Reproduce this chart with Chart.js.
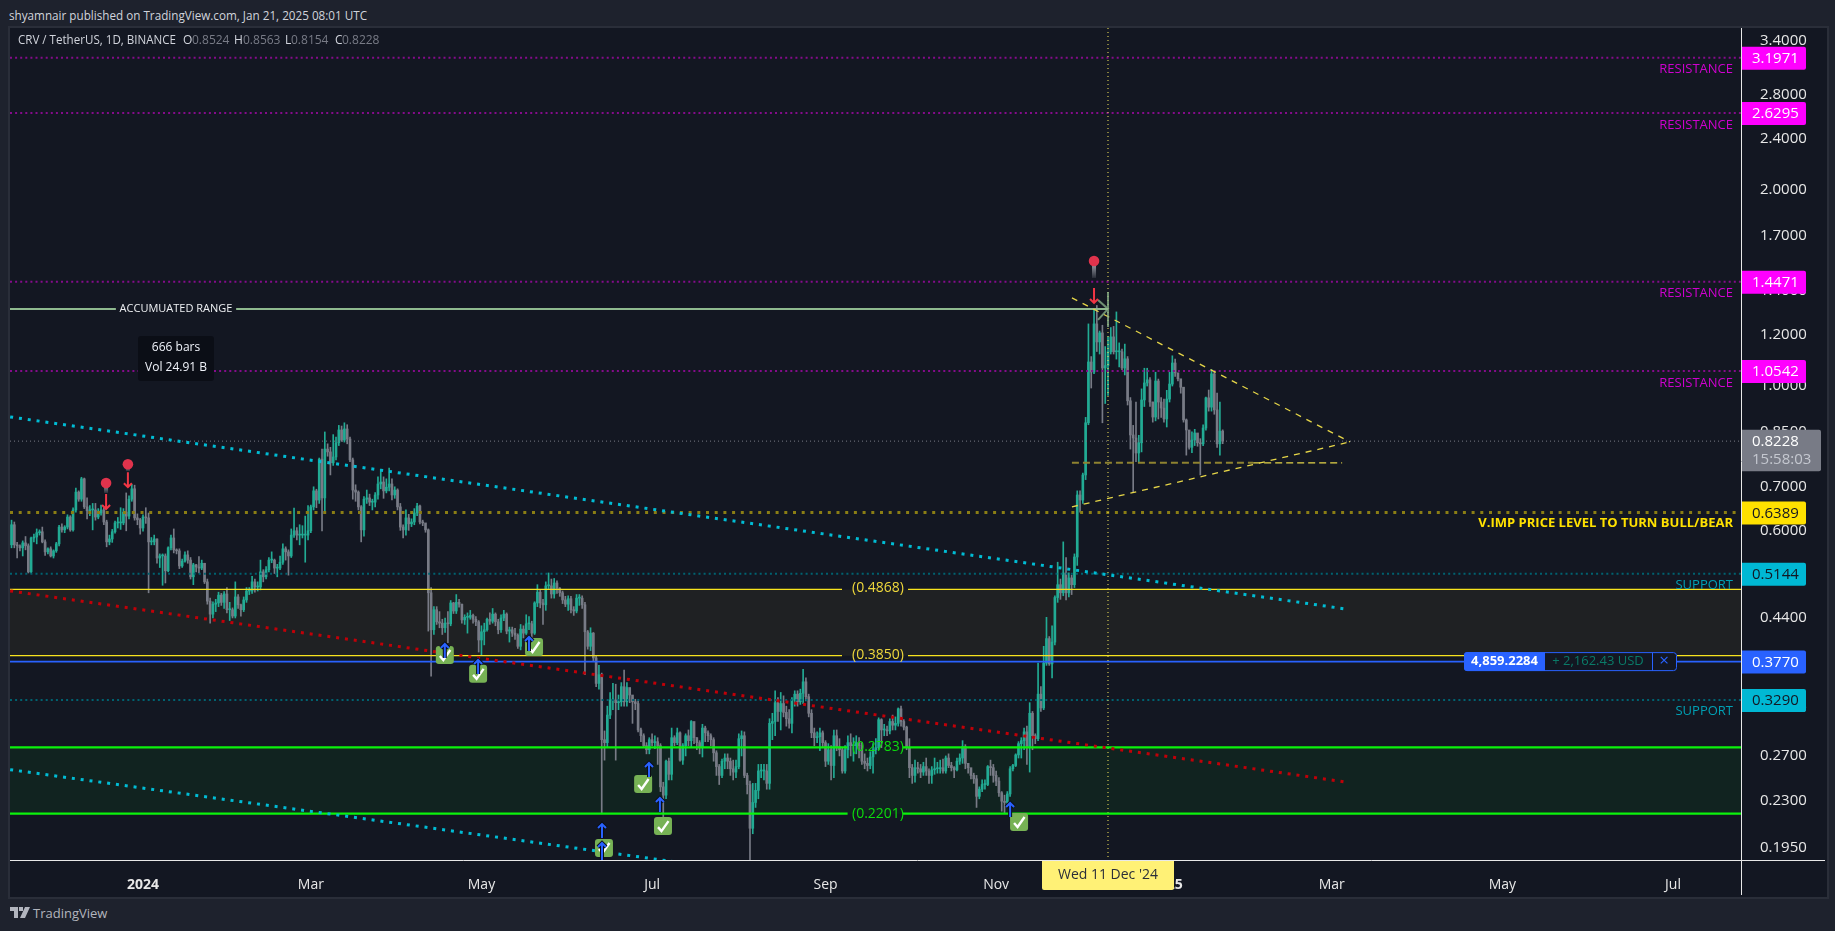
<!DOCTYPE html>
<html>
<head>
<meta charset="utf-8">
<title>CRV / TetherUS</title>
<script src="https://cdn.jsdelivr.net/npm/chart.js@4/dist/chart.umd.min.js"></script>
<style>
	html, body { margin: 0; padding: 0; background: #1e222d; overflow: hidden; }
	body { width: 1835px; height: 931px; position: relative; font-family: "Open Sans", "Noto Sans", sans-serif; }
	#published { position: absolute; left: 9px; top: 6px; color: #d1d4dc; font-size: 11.7px; line-height: 18px; white-space: nowrap; }
	#frame { position: absolute; left: 8px; top: 26px; width: 1817px; height: 869px; border: 2px solid #2a2e39; background: #131722; }
	#chartCanvas { position: absolute; left: 10px; top: 28px; }
	#brand { position: absolute; left: 10px; top: 904px; height: 18px; color: #b2b5be; font-size: 13px; line-height: 18px; }
	#brand svg { position: absolute; left: 0; top: 3px; }
	#brand span { position: absolute; left: 23px; top: 0; white-space: nowrap; }
</style>
</head>
<body>
<div id="published">shyamnair published on TradingView.com, Jan 21, 2025 08:01 UTC</div>
<div id="frame"></div>
<canvas id="chartCanvas" width="1815" height="867"></canvas>
<div id="brand">
	<svg width="20" height="11" viewBox="0 0 20 11"><path d="M0 0h8v11H4V4H0zM9 0h4v4H9zM15 0h5l-5 11h-5z" fill="#b2b5be"/></svg>
	<span>TradingView</span>
</div>
<script>
	// 캔들 시작일 (2024-01-01 = 0), 하루 단위
	const firstDay = -47;

	// 종가
	const closes = [
		.612,.570,.568,.564,.574,.568,.518,.584,.586,.595,
		.597,.576,.556,.562,.548,.558,.572,.607,.601,.607,
		.629,.601,.645,.687,.670,.720,.652,.643,.645,.645,
		.629,.638,.645,.618,.576,.582,.597,.616,.616,.616,
		.640,.631,.670,.695,.627,.623,.605,.629,.627,.576,
		.576,.582,.544,.548,.548,.520,.564,.584,.560,.558,
		.529,.538,.550,.540,.509,.531,.527,.525,.534,.500,
		.467,.446,.462,.464,.477,.465,.479,.453,.453,.443,
		.474,.461,.453,.469,.484,.484,.500,.491,.491,.518,
		.509,.522,.540,.540,.525,.525,.536,.562,.556,.548,
		.590,.599,.590,.590,.590,.590,.599,
		.652,.690,.668,.772,.673,.800,.792,.762,.778,.818,
		.856,.826,.859,.829,.770,.692,.687,.652,.601,.670,
		.673,.663,.663,.680,.707,.712,.690,.699,.707,.680,
		.692,.652,.607,.601,.627,.614,.618,.638,.654,.618,
		.616,.601,.481,.422,.453,.434,.432,.425,.432,.431,
		.464,.451,.465,.462,.437,.441,.441,.444,.438,.434,
		.407,.419,.422,.438,.435,.446,.434,.422,.440,.446,
		.420,.422,.417,.414,.398,.423,.417,.431,.431,.417,
		.464,.482,.464,.461,.493,.493,.479,.498,.489,.481,
		.469,.462,.471,.453,.451,.472,.472,.461,.419,
		.398,.417,.382,.349,.360,.286,.283,.312,.329,.329,
		.326,.327,.345,.327,.344,.335,.327,.325,.296,.290,
		.280,.276,.286,.283,.284,.280,.242,.235,.265,.253,
		.288,.283,.293,.266,.280,.290,.285,.305,.288,.283,
		.279,.298,.293,.290,.286,.273,.260,.252,.265,.268,
		.265,.258,.255,.260,.287,.290,.252,.244,.209,.229,
		.239,.256,.256,.256,.245,.303,.305,.326,.316,.325,
		.315,.308,.303,.329,.336,.327,.337,.351,.333,.314,
		.293,.288,.289,.293,.283,.265,.276,.261,.290,.279,
		.276,.256,.276,.283,.280,.280,.283,.280,.265,.263,
		.261,.269,.276,.278,.307,.296,.296,.295,.305,.301,
		.303,.319,.305,.299,.278,.259,.252,.259,.258,.255,
		.260,.256,.252,.257,.258,.258,.259,.256,.268,.261,
		.259,.257,.265,.268,.279,.263,.259,.252,.249,.234,
		.240,.244,.244,.260,.259,.252,.247,.237,.230,.229,
		.236,.258,.261,.271,.282,.285,.294,.278,.314,.290,
		.287,.336,.320,.375,.409,.374,.404,.473,.495,.481,
		.516,.481,.507,.495,.546,.680,.668,.730,.878,1.089,
		1.051,1.246,1.169,1.207,1.066,1.075,1.129,1.190,1.129,1.129,
		1.129,1.066,1.101,.949,.841,.832,.789,.818,.952,1.011,
		1.022,.945,.896,1.018,.945,.925,.890,.955,1.007,1.085,
		1.048,1.026,.996,.887,.856,.805,.826,.847,.818,.815,
		.862,.959,.928,1.044,.919,.815,.8524,.8228
	];

	// 고가
	const highs = [
		.622,.618,.575,.570,.578,.587,.572,.586,.592,.603,
		.601,.607,.580,.564,.566,.560,.575,.611,.614,.610,
		.634,.632,.650,.697,.690,.724,.722,.673,.655,.660,
		.660,.648,.656,.650,.622,.590,.602,.620,.628,.650,
		.648,.685,.678,.706,.704,.636,.626,.634,.650,.638,
		.585,.590,.582,.552,.552,.552,.566,.590,.603,.562,
		.562,.542,.556,.558,.545,.534,.532,.547,.540,.534,
		.505,.472,.466,.470,.482,.480,.483,.490,.465,.456,
		.500,.478,.462,.474,.490,.490,.510,.505,.500,.540,
		.522,.528,.545,.556,.542,.532,.548,.572,.566,.560,
		.603,.649,.606,.612,.610,.631,.655,
		.656,.700,.694,.775,.800,.850,.815,.805,.842,.835,
		.870,.868,.878,.872,.835,.775,.705,.690,.655,.676,
		.692,.682,.670,.686,.725,.745,.725,.720,.748,.720,
		.700,.695,.660,.612,.645,.635,.625,.648,.660,.656,
		.622,.606,.603,.490,.458,.458,.450,.438,.440,.450,
		.468,.465,.478,.470,.462,.445,.448,.452,.446,.442,
		.436,.428,.432,.440,.448,.455,.448,.438,.445,.452,
		.448,.426,.426,.424,.416,.430,.428,.445,.442,.435,
		.466,.495,.486,.470,.500,.516,.505,.506,.502,.490,
		.484,.475,.476,.475,.458,.478,.478,.476,.465,
		.421,.425,.418,.384,.372,.362,.295,.322,.338,.349,
		.348,.335,.350,.366,.350,.342,.332,.330,.328,.298,
		.292,.283,.288,.292,.290,.288,.282,.246,.266,.268,
		.298,.290,.298,.294,.282,.292,.296,.306,.304,.288,
		.285,.302,.300,.295,.292,.288,.275,.262,.267,.272,
		.272,.268,.266,.266,.292,.295,.294,.254,.247,.245,
		.245,.262,.262,.262,.262,.308,.314,.340,.332,.338,
		.334,.322,.318,.332,.340,.340,.342,.367,.356,.336,
		.318,.298,.294,.298,.295,.285,.282,.280,.296,.296,
		.287,.278,.280,.290,.292,.288,.290,.288,.283,.272,
		.268,.274,.282,.287,.309,.308,.302,.300,.308,.312,
		.310,.320,.322,.307,.300,.287,.262,.266,.264,.262,
		.264,.268,.258,.260,.268,.264,.266,.267,.270,.272,
		.264,.260,.268,.272,.285,.281,.262,.258,.254,.252,
		.242,.248,.248,.261,.266,.262,.256,.250,.238,.235,
		.238,.260,.262,.272,.284,.288,.298,.300,.326,.316,
		.292,.375,.345,.398,.441,.412,.428,.476,.536,.505,
		.576,.545,.516,.512,.552,.690,.690,.735,.895,1.246,
		1.110,1.310,1.330,1.215,1.240,1.150,1.190,1.230,1.235,1.300,
		1.165,1.140,1.160,1.110,.960,.870,.945,.840,.990,1.065,
		1.065,1.030,.945,1.050,1.025,.960,.955,.985,1.050,1.113,
		1.100,1.040,1.000,.995,.890,.850,.850,.858,.845,.830,
		.872,.962,.986,1.060,1.050,.975,.945,.8563
	];

	// 저가
	const lows = [
		.564,.564,.544,.558,.548,.560,.516,.516,.576,.572,
		.590,.574,.549,.552,.546,.544,.555,.568,.596,.595,
		.603,.598,.598,.640,.665,.665,.648,.625,.632,.601,
		.622,.625,.633,.612,.566,.570,.575,.594,.605,.602,
		.612,.599,.625,.665,.622,.612,.592,.598,.615,.481,
		.570,.570,.534,.526,.494,.498,.518,.560,.554,.552,
		.524,.526,.536,.534,.505,.495,.518,.516,.522,.497,
		.462,.432,.440,.450,.458,.460,.455,.448,.436,.440,
		.440,.455,.443,.450,.465,.478,.480,.482,.484,.486,
		.500,.505,.518,.535,.515,.509,.522,.532,.540,.512,
		.545,.585,.580,.570,.584,.536,.580,
		.595,.645,.650,.660,.599,.640,.780,.730,.755,.770,
		.810,.822,.820,.815,.765,.670,.665,.645,.576,.588,
		.660,.655,.645,.652,.670,.695,.672,.685,.690,.668,
		.672,.645,.600,.584,.590,.600,.608,.612,.632,.614,
		.610,.596,.420,.358,.415,.430,.425,.415,.418,.403,
		.428,.447,.447,.457,.432,.430,.417,.438,.432,.428,
		.390,.386,.400,.420,.430,.432,.428,.416,.418,.436,
		.416,.404,.412,.408,.395,.393,.410,.415,.422,.410,
		.415,.458,.456,.430,.452,.488,.472,.472,.480,.475,
		.463,.458,.452,.448,.444,.448,.460,.455,.360,
		.394,.392,.378,.345,.342,.220,.266,.278,.308,.318,
		.266,.318,.322,.322,.322,.326,.303,.318,.294,.284,
		.278,.272,.272,.280,.277,.262,.238,.217,.232,.248,
		.248,.280,.281,.265,.262,.270,.280,.279,.282,.276,
		.272,.269,.284,.284,.280,.265,.252,.244,.250,.258,
		.258,.252,.248,.250,.258,.270,.250,.236,.187,.205,
		.225,.232,.250,.248,.240,.240,.286,.290,.305,.296,
		.310,.300,.298,.293,.322,.322,.324,.325,.328,.310,
		.288,.280,.283,.275,.278,.260,.262,.248,.250,.275,
		.270,.254,.254,.268,.270,.265,.272,.268,.262,.258,
		.256,.258,.254,.272,.276,.278,.290,.290,.292,.296,
		.296,.300,.300,.296,.276,.250,.245,.246,.254,.250,
		.252,.252,.245,.245,.253,.254,.254,.254,.254,.259,
		.256,.250,.256,.262,.263,.258,.254,.249,.245,.225,
		.232,.238,.240,.243,.252,.246,.243,.234,.222,.220,
		.226,.234,.256,.260,.268,.268,.276,.262,.255,.276,
		.282,.285,.316,.318,.372,.372,.356,.400,.465,.470,
		.476,.469,.474,.478,.490,.530,.640,.660,.718,.872,
		.993,1.045,1.130,1.120,.878,.940,.967,1.120,1.120,1.100,
		1.070,1.060,1.040,.935,.800,.687,.765,.765,.792,.930,
		1.000,.930,.880,.884,.890,.895,.880,.865,.945,1.000,
		1.035,1.018,.975,.880,.783,.800,.790,.810,.808,.730,
		.810,.855,.915,.915,.905,.805,.783,.8154
	];

	// 시가는 전일 종가
	const opens = [.570].concat(closes.slice(0, -1));

	// 축
	const priceTicks = [3.4, 2.8, 2.4, 2.0, 1.7, 1.4, 1.2, 1.0, 0.85, 0.7, 0.6, 0.44, 0.32, 0.27, 0.23, 0.195];
	const tickDays = [0, 60, 121, 182, 244, 305, 366, 425, 486, 547];
	const tickLabels = ["2024", "Mar", "May", "Jul", "Sep", "Nov", "2025", "Mar", "May", "Jul"];

	// 수평 레벨
	const resistanceLevels = [3.1971, 2.6295, 1.4471, 1.0542];
	const supportLevels = [0.5144, 0.3290];
	const pivotLevel = 0.6389;
	const lastPrice = 0.8228;
	const entryPrice = 0.3770;
	const yellowZone = [0.4868, 0.3850];
	const greenZone = [0.2783, 0.2201];
	const accumulatedLevel = 1.314;

	// 추세선 [시작일, 시작가, 종료일, 종료가]
	const upperChannel = [-47.5, 0.8965, 430, 0.4542];
	const lowerChannel = [-47.5, 0.2572, 200, 0.1831];
	const redChannel = [-47.5, 0.4842, 430, 0.2462];
	const wedgeTop = [332.1, 1.366, 431.5, 0.8206];
	const wedgeBottom = [332.1, 0.652, 431.5, 0.8206];
	const wedgeBaseLeft = [332.1, 0.762, 396.9, 0.762];
	const wedgeBaseRight = [396.9, 0.762, 428.7, 0.762];

	// 표시 마커
	const crossDay = 345;
	const pinDays = [-13.2, -5.4, 340];
	const pinPrices = [0.647, 0.699, 1.342];
	const badgeDays = [107.9, 119.8, 139.8, 178.8, 185.9, 164.8, 313.2];
	const badgePrices = [0.386, 0.361, 0.397, 0.2445, 0.2106, 0.1949, 0.2137];
	const arrowDays = [107.9, 119.8, 138, 180.9, 184.8, 164.1, 164.1, 310];
	const arrowPrices = [0.4027, 0.3805, 0.4128, 0.2643, 0.2335, 0.2129, 0.1991, 0.2294];

	const xMin = -47.55;
	const xMax = 571.3;
	const upColor = "#22ab94";
	const downColor = "#787b86";
	const magenta = "#ff00ff";
	const gold = "#ffe100";
	const teal = "#00bcd4";
	const blue = "#2962ff";
	const uiFont = '"Open Sans", "Noto Sans", sans-serif';

	function segment(line, color, width, dash, order) {
		return {
			type: "line",
			data: [{x: line[0], y: line[1]}, {x: line[2], y: line[3]}],
			borderColor: color,
			borderWidth: width,
			borderDash: dash,
			pointRadius: 0,
			order: order || 1
		};
	} // segment

	// 라벨 자리를 비운 수평선
	function gapLine(price, fromDay, toDay, color, width, endDay) {
		return {
			type: "line",
			data: [{x: xMin, y: price}, {x: fromDay, y: price}, {x: fromDay, y: null}, {x: toDay, y: price}, {x: endDay || xMax, y: price}],
			borderColor: color,
			borderWidth: width,
			pointRadius: 0,
			spanGaps: false,
			order: 1
		};
	} // gapLine

	function zoneFill(top, bottom, color) {
		return {
			type: "line",
			data: [{x: xMin, y: top}, {x: xMax, y: top}],
			borderWidth: 0,
			backgroundColor: color,
			fill: {target: {value: bottom}},
			pointRadius: 0,
			order: 20
		};
	} // zoneFill

	function level(price, color, width, dash) {
		return segment([xMin, price, xMax, price], color, width, dash, 2);
	} // level

	const candleDays = closes.map(function(c, i) { return firstDay + i; });
	const candleColors = closes.map(function(c, i) { return c >= opens[i] ? upColor : downColor; });

	const datasets = [
		zoneFill(yellowZone[0], yellowZone[1], "rgba(255,235,59,0.05)"),
		zoneFill(greenZone[0], greenZone[1], "rgba(0,255,0,0.055)"),
		{
			type: "bar",
			data: candleDays.map(function(d, i) { return {x: d, y: [lows[i], highs[i]]}; }),
			backgroundColor: candleColors,
			barThickness: 1,
			grouped: false,
			order: 11
		},
		{
			type: "bar",
			data: candleDays.map(function(d, i) { return {x: d, y: [opens[i], closes[i]]}; }),
			backgroundColor: candleColors,
			barThickness: 2,
			minBarLength: 1,
			grouped: false,
			order: 10
		},
		level(lastPrice, "#787b86", 1, [1, 3]),
		level(pivotLevel, "#8b7e14", 3, [3, 5.7]),
		segment(upperChannel, teal, 3, [3, 5.9]),
		segment(lowerChannel, teal, 3, [3, 5.9]),
		segment(redChannel, "#c00008", 3, [3, 5.9]),
		segment(wedgeTop, "#e6d648", 1.3, [6, 6]),
		segment(wedgeBottom, "#e6d648", 1.3, [6, 6]),
		segment(wedgeBaseLeft, "#8f8330", 2, [7, 4]),
		segment(wedgeBaseRight, "#e6d648", 1.3, [7, 4]),
		gapLine(accumulatedLevel, -9.7, 33.3, "#8fb98f", 2, crossDay),
		gapLine(yellowZone[0], 249.9, 273.5, "#f7e31e", 1.2),
		gapLine(yellowZone[1], 249.9, 273.5, "#f7e31e", 1.2),
		gapLine(greenZone[0], 251.9, 271.7, "#0cf20c", 2.2),
		gapLine(greenZone[1], 251.9, 271.7, "#0cf20c", 2.2),
		level(entryPrice, blue, 1.8, []),
		segment([crossDay, 3.5514, crossDay, 0.1868], "#f7ea5a", 1, [1, 3], 0)
	];
	resistanceLevels.forEach(function(p) { datasets.push(level(p, "#840c8a", 2, [2, 3.1])); });
	supportLevels.forEach(function(p) { datasets.push(level(p, "#006270", 2, [2, 3.1])); });

	// 화면 좌표 (페이지 기준) 변환
	function dx(chart, day) { return chart.scales.x.getPixelForValue(day) + 10; }
	function py(chart, price) { return chart.scales.y.getPixelForValue(price) + 28; }

	function text(ctx, str, x, y, color, font, align, maxWidth) {
		ctx.font = font;
		ctx.fillStyle = color;
		ctx.textAlign = align || "left";
		ctx.textBaseline = "middle";
		if (maxWidth) {
			ctx.fillText(str, x, y, maxWidth);
		} else {
			ctx.fillText(str, x, y);
		} // end else
	} // text

	function roundBox(ctx, x, y, w, h, r, color) {
		ctx.beginPath();
		ctx.roundRect(x, y, w, h, r);
		ctx.fillStyle = color;
		ctx.fill();
	} // roundBox

	function arrowUp(ctx, x, top, len) {
		ctx.lineCap = "butt";
		[["#0b0e16", 4], [blue, 2]].forEach(function(st) {
			ctx.strokeStyle = st[0];
			ctx.lineWidth = st[1];
			ctx.beginPath();
			ctx.moveTo(x, top + len);
			ctx.lineTo(x, top + 1);
			ctx.moveTo(x - 4, top + 5);
			ctx.lineTo(x, top + 1);
			ctx.lineTo(x + 4, top + 5);
			ctx.stroke();
		});
	} // arrowUp

	function drawBadge(ctx, x, y) {
		roundBox(ctx, x - 9, y - 9, 18, 18, 3, "#77b255");
		ctx.strokeStyle = "#ffffff";
		ctx.lineWidth = 2.4;
		ctx.beginPath();
		ctx.moveTo(x - 5, y + 1);
		ctx.lineTo(x - 1.5, y + 5);
		ctx.lineTo(x + 5.5, y - 5);
		ctx.stroke();
	} // drawBadge

	function drawPin(ctx, x, tip, headY, stemLen) {
		// 화살표
		ctx.strokeStyle = "#f23645";
		ctx.lineWidth = 2;
		ctx.beginPath();
		ctx.moveTo(x, tip - 15);
		ctx.lineTo(x, tip);
		ctx.moveTo(x - 4, tip - 4);
		ctx.lineTo(x, tip);
		ctx.lineTo(x + 4, tip - 4);
		ctx.stroke();
		// 핀
		const grad = ctx.createLinearGradient(0, headY, 0, headY + stemLen);
		grad.addColorStop(0, "#b2b5be");
		grad.addColorStop(1, "#2a2e39");
		ctx.fillStyle = grad;
		ctx.fillRect(x - 2, headY, 4, stemLen);
		ctx.fillStyle = "#e0334c";
		ctx.beginPath();
		ctx.arc(x, headY, 5.3, 0, Math.PI * 2);
		ctx.fill();
	} // drawPin

	function priceTag(ctx, chart, price, bg, fg) {
		const y = py(chart, price);
		roundBox(ctx, 1742, y - 11, 64, 23, [0, 2, 2, 0], bg);
		text(ctx, price.toFixed(4), 1752, y + 1, fg, "15px " + uiFont);
	} // priceTag

	const overlayPlugin = {
		id: "overlay",
		afterDraw: function(chart) {
			const ctx = chart.ctx;
			ctx.save();
			ctx.translate(-10, -28);

			// 축 경계선
			ctx.strokeStyle = "#e8e8e8";
			ctx.lineWidth = 1;
			ctx.beginPath();
			ctx.moveTo(1741.5, 28);
			ctx.lineTo(1741.5, 895);
			ctx.moveTo(10, 860.5);
			ctx.lineTo(1825, 860.5);
			ctx.stroke();

			// 차트 영역 안의 마커
			ctx.save();
			ctx.beginPath();
			ctx.rect(10, 28, 1731, 832);
			ctx.clip();

			// 누적 구간 끝 화살표
			const ax = dx(chart, crossDay);
			const ay = py(chart, accumulatedLevel);
			ctx.strokeStyle = "rgba(143,185,143,0.75)";
			ctx.lineWidth = 2;
			ctx.beginPath();
			ctx.moveTo(ax - 10, ay - 9);
			ctx.lineTo(ax, ay);
			ctx.lineTo(ax - 10, ay + 11);
			ctx.moveTo(ax, ay - 17);
			ctx.lineTo(ax, ay + 18);
			ctx.stroke();

			text(ctx, "ACCUMUATED RANGE", 176, ay + 0, "#eef0f3", "11px " + uiFont, "center");

			badgeDays.forEach(function(d, i) {
				drawBadge(ctx, dx(chart, d), py(chart, badgePrices[i]));
			});
			arrowDays.forEach(function(d, i) {
				arrowUp(ctx, dx(chart, d), py(chart, arrowPrices[i]), i == 6 ? 18 : 15);
			});
			const pinGaps = [26, 23, 42];
			const pinStems = [10, 7, 17];
			pinDays.forEach(function(d, i) {
				const tip = py(chart, pinPrices[i]);
				drawPin(ctx, dx(chart, d), tip, tip - pinGaps[i], pinStems[i]);
			});

			// 구간 라벨
			text(ctx, "(0.4868)", 878, py(chart, yellowZone[0]) - 1, "#efd83c", "14px " + uiFont, "center");
			text(ctx, "(0.3850)", 878, py(chart, yellowZone[1]) - 1, "#efd83c", "14px " + uiFont, "center");
			text(ctx, "(0.2783)", 878, py(chart, greenZone[0]), "#0cdc0c", "14px " + uiFont, "center");
			text(ctx, "(0.2201)", 878, py(chart, greenZone[1]), "#0cdc0c", "14px " + uiFont, "center");

			// 우측 설명
			resistanceLevels.forEach(function(p) {
				text(ctx, "RESISTANCE", 1733, py(chart, p) + 12, "#d000d0", "13px " + uiFont, "right");
			});
			supportLevels.forEach(function(p) {
				text(ctx, "SUPPORT", 1733, py(chart, p) + 11, "#00a0b4", "13px " + uiFont, "right");
			});
			text(ctx, "V.IMP PRICE LEVEL TO TURN BULL/BEAR", 1733, py(chart, pivotLevel) + 11, gold, "bold 13px " + uiFont, "right");

			// 측정 박스
			roundBox(ctx, 138, 336, 76, 45, 3, "#0b0e16");
			text(ctx, "666 bars", 176, 348, "#f0f3fa", "12px " + uiFont, "center");
			text(ctx, "Vol 24.91 B", 176, 368, "#f0f3fa", "12px " + uiFont, "center");

			// 포지션 위젯
			const wy = py(chart, entryPrice);
			roundBox(ctx, 1464, wy - 9.5, 213, 19, 3, "#131722");
			roundBox(ctx, 1464, wy - 9.5, 81, 19, [3, 0, 0, 3], blue);
			ctx.strokeStyle = blue;
			ctx.lineWidth = 1;
			ctx.beginPath();
			ctx.roundRect(1464.5, wy - 9, 212, 18, 3);
			ctx.moveTo(1652.5, wy - 9);
			ctx.lineTo(1652.5, wy + 9);
			ctx.stroke();
			text(ctx, "4,859.2284", 1504.5, wy, "#ffffff", "bold 13px " + uiFont, "center");
			text(ctx, "+ 2,162.43 USD", 1598, wy, "#0a7a68", "13px " + uiFont, "center");
			text(ctx, "\u00d7", 1664, wy, blue, "17px " + uiFont, "center");

			// 좌상단 범례
			const legendY = 41;
			const legendFont = "12px " + uiFont;
			text(ctx, "CRV / TetherUS, 1D, BINANCE", 18, legendY, "#d1d4dc", legendFont, "left", 158);
			[["O", 183, "0.8524", 192], ["H", 234, "0.8563", 243], ["L", 285, "0.8154", 291], ["C", 335, "0.8228", 342]].forEach(function(p) {
				text(ctx, p[0], p[1], legendY, "#d1d4dc", legendFont);
				text(ctx, p[2], p[3], legendY, "#787b86", legendFont);
			});
			ctx.restore();

			// 가격 태그
			resistanceLevels.forEach(function(p) { priceTag(ctx, chart, p, magenta, "#ffffff"); });
			priceTag(ctx, chart, pivotLevel, gold, "#131722");
			supportLevels.forEach(function(p) { priceTag(ctx, chart, p, "#00b8d4", "#131722"); });
			priceTag(ctx, chart, entryPrice, blue, "#ffffff");

			// 현재가 태그
			const ly = py(chart, lastPrice);
			roundBox(ctx, 1742, ly - 11.5, 79, 41.5, [0, 2, 2, 0], "#787b86");
			text(ctx, lastPrice.toFixed(4), 1752, ly + 0.5, "#ffffff", "15px " + uiFont);
			text(ctx, "15:58:03", 1752, ly + 19, "#c5c8d0", "15px " + uiFont);

			// 크로스헤어 날짜
			roundBox(ctx, 1042, 861, 132, 29, [0, 0, 2, 2], "#fff176");
			text(ctx, "Wed 11 Dec '24", 1108, 875, "#2a2e39", "14px " + uiFont, "center");

			ctx.restore();
		} // afterDraw
	}; // overlayPlugin

	// 축 라벨 때문에 생기는 여백 제거
	function noPadding(s) {
		s.paddingTop = 0;
		s.paddingBottom = 0;
		s.paddingLeft = 0;
		s.paddingRight = 0;
	} // noPadding

	const chart = new Chart(document.getElementById("chartCanvas"), {
		data: {datasets: datasets},
		plugins: [overlayPlugin],
		options: {
			responsive: false,
			animation: false,
			layout: {padding: 0},
			plugins: {legend: {display: false}, tooltip: {enabled: false}},
			scales: {
				x: {
					type: "linear",
					min: xMin,
					max: xMax,
					offset: false,
					grid: {display: false},
					border: {display: false},
					afterFit: function(s) { s.height = 35; noPadding(s); },
					afterBuildTicks: function(s) { s.ticks = tickDays.map(function(v) { return {value: v}; }); },
					ticks: {
						autoSkip: false,
						maxRotation: 0,
						padding: 9,
						color: "#e8e8e8",
						font: function(c) {
							const bold = c.index === 0 || c.index === 6;
							return {family: uiFont, size: 14, weight: bold ? "bold" : "normal"};
						},
						callback: function(v, i) { return tickLabels[i]; }
					}
				},
				y: {
					type: "logarithmic",
					position: "right",
					min: 0.1868,
					max: 3.5514,
					grid: {display: false},
					border: {display: false},
					afterFit: function(s) { s.width = 84; noPadding(s); },
					afterBuildTicks: function(s) { s.ticks = priceTicks.map(function(v) { return {value: v}; }); },
					ticks: {
						autoSkip: false,
						padding: 11,
						color: "#e8e8e8",
						font: {family: uiFont, size: 15},
						callback: function(v) { return Number(v).toFixed(4); }
					}
				}
			}
		}
	}); // chart
</script>
</body>
</html>
